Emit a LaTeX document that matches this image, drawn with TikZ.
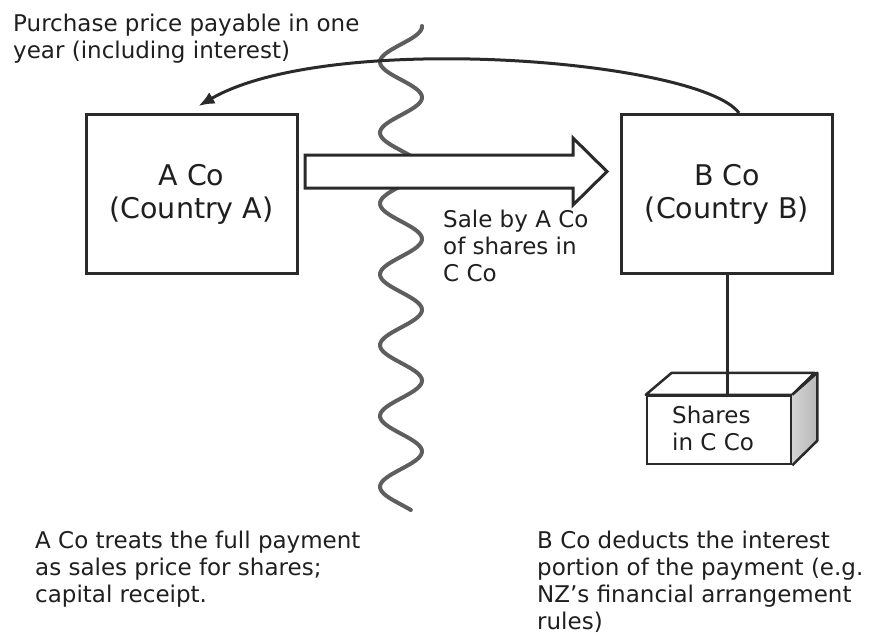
\documentclass[tikz,border=0pt]{standalone}
\usepackage{fontspec}
\setmainfont{DejaVu Sans}
\usetikzlibrary{arrows.meta,calc}
\definecolor{textc}{HTML}{1F1F1F}
\definecolor{linec}{HTML}{2A2A2A}
\definecolor{wavec}{HTML}{5E5E5E}
\begin{document}
\begin{tikzpicture}[x=1pt,y=-1pt,
  company/.style={draw=linec, line width=3pt, minimum width=211pt, minimum height=159pt,
    align=center, text=textc, inner sep=0pt, font=\fontsize{28.5}{33}\selectfont},
  txt/.style={anchor=north west, inner sep=0pt, align=left, text=textc,
    font=\fontsize{23}{27}\selectfont},
  conn/.style={draw=linec, line width=3pt},
  wave/.style={draw=wavec, line width=4pt, line cap=round},
  face/.style={draw=linec, line width=2.5pt, line join=round}]
\useasboundingbox (0,0) rectangle (869,634);
\fill[white] (0,0) rectangle (869,634);

% wavy border line
\draw[wave] plot[domain=26:510, samples=240, smooth] ({401-21*cos(5.0847*(\x-62))}, \x);

% companies
\node[company] (A) at (191.5,194) {A Co\\(Country A)};
\node[company] (B) at (727,194) {B Co\\(Country B)};

% sale arrow (hollow block arrow)
\draw[conn, fill=white, line join=miter] (305,155) -- (573,155) -- (573,138) -- (607,171.5)
  -- (573,205) -- (573,188) -- (305,188) -- cycle;

% payment arrow
\draw[conn, -{Latex[length=16pt,width=13pt]}]
  ([xshift=119pt]B.north west) .. controls (700,60) and (330,30) .. ([xshift=7pt,yshift=7pt]A.north);

% shares cuboid
\node[draw=linec, line width=2.5pt, fill=white, minimum width=144pt, minimum height=68pt, inner sep=0pt] (S) at (719,430) {};
\draw[face, fill=white] (S.north west) -- ++(26,-22) -- ++(143,0) -- (S.north east) -- cycle;
\shade[left color=gray!35, right color=gray!55] (S.north east) -- ++(25,-22) -- ++(0,68) -- (S.south east) -- cycle;
\draw[face] (S.north east) -- ++(25,-22) -- ++(0,68) -- (S.south east);
\draw[conn] (B.south) -- (B.south |- S.north);
\node[txt] (St) at (672,405.5) {Shares\\in C Co};

% texts
\node[txt] (T1) at (13,13.5) {Purchase price payable in one\\year (including interest)};
\node[txt] (T2) at (443,209.5) {Sale by A Co\\of shares in\\C Co};
\node[txt] (T3) at (35,530.5) {A Co treats the full payment\\as sales price for shares;\\capital receipt.};
\node[txt] (T4) at (537,530.5) {B Co deducts the interest\\portion of the payment (e.g.\\NZ’s financial arrangement\\rules)};
\end{tikzpicture}
\end{document}
